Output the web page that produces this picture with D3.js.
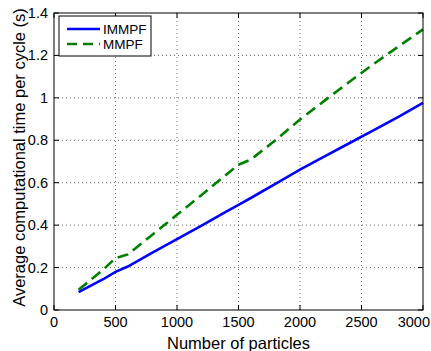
<!DOCTYPE html>
<html>
<head>
<meta charset="utf-8">
<script src="https://cdn.jsdelivr.net/npm/d3@7"></script>
<style>
  body { margin: 0; background: #fff; }
  text { font-family: "Liberation Sans", Arial, sans-serif; fill: #000; }
</style>
</head>
<body>
<div id="chart"></div>
<script>
// computational time vs number of particles
const particles = [200, 400, 500, 600, 800, 1000, 1200, 1400, 1500, 1600, 1800, 2000, 2200, 2400, 2600, 2800, 3000];
const immpf = [0.084, 0.145, 0.18, 0.205, 0.27, 0.334, 0.398, 0.464, 0.496, 0.528, 0.595, 0.662, 0.724, 0.786, 0.848, 0.91, 0.976];
const mmpf  = [0.095, 0.19, 0.245, 0.262, 0.355, 0.449, 0.542, 0.638, 0.685, 0.709, 0.80, 0.898, 0.987, 1.075, 1.16, 1.242, 1.323];
const xTicks = [0, 500, 1000, 1500, 2000, 2500, 3000];
const yTicks = [0, 0.2, 0.4, 0.6, 0.8, 1, 1.2, 1.4];
const seriesNames = ['IMMPF', 'MMPF'];

const W = 431, H = 351;
const m = {left: 54, right: 8, top: 13, bottom: 41};
const iw = W - m.left - m.right, ih = H - m.top - m.bottom;

const svg = d3.select('#chart').append('svg').attr('width', W).attr('height', H);
const g = svg.append('g').attr('transform', `translate(${m.left},${m.top})`);

const x = d3.scaleLinear().domain([0, 3000]).range([0, iw]);
const y = d3.scaleLinear().domain([0, 1.4]).range([ih, 0]);

// grid
g.selectAll('.gx').data(xTicks.slice(1, -1)).enter().append('line')
  .attr('x1', d => x(d)).attr('x2', d => x(d)).attr('y1', 0).attr('y2', ih)
  .attr('stroke', '#444').attr('stroke-width', 0.8).attr('stroke-dasharray', '1,3');
g.selectAll('.gy').data(yTicks.slice(1, -1)).enter().append('line')
  .attr('x1', 0).attr('x2', iw).attr('y1', d => y(d)).attr('y2', d => y(d))
  .attr('stroke', '#444').attr('stroke-width', 0.8).attr('stroke-dasharray', '1,3');

// inward ticks on all four sides
const tl = 5;
xTicks.forEach(t => {
  g.append('line').attr('x1', x(t)).attr('x2', x(t)).attr('y1', ih).attr('y2', ih - tl).attr('stroke', '#000');
  g.append('line').attr('x1', x(t)).attr('x2', x(t)).attr('y1', 0).attr('y2', tl).attr('stroke', '#000');
});
yTicks.forEach(t => {
  g.append('line').attr('x1', 0).attr('x2', tl).attr('y1', y(t)).attr('y2', y(t)).attr('stroke', '#000');
  g.append('line').attr('x1', iw).attr('x2', iw - tl).attr('y1', y(t)).attr('y2', y(t)).attr('stroke', '#000');
});

// tick labels (last one pulled in so it stays on the page)
g.selectAll('.xl').data(xTicks).enter().append('text')
  .attr('x', (d, i) => i === xTicks.length - 1 ? W - m.left - 1 : x(d))
  .attr('y', ih + 17)
  .attr('text-anchor', (d, i) => i === xTicks.length - 1 ? 'end' : 'middle')
  .attr('font-size', '14.5px').text(d => d);
g.selectAll('.yl').data(yTicks).enter().append('text')
  .attr('x', -6).attr('y', d => y(d) + 5).attr('text-anchor', 'end')
  .attr('font-size', '14.5px').text(d => d);

// lines
const line = d3.line().x((d, i) => x(particles[i])).y(d => y(d));
g.append('path').datum(immpf).attr('d', line).attr('fill', 'none')
  .attr('stroke', '#0000ff').attr('stroke-width', 2.6);
g.append('path').datum(mmpf).attr('d', line).attr('fill', 'none')
  .attr('stroke', '#008000').attr('stroke-width', 2.6).attr('stroke-dasharray', '11,6');

// frame
g.append('rect').attr('width', iw).attr('height', ih).attr('fill', 'none')
  .attr('stroke', '#000').attr('stroke-width', 1);

// legend
const lg = g.append('g').attr('transform', 'translate(5,3)');
lg.append('rect').attr('width', 92).attr('height', 40).attr('fill', '#fff')
  .attr('stroke', '#000').attr('stroke-width', 1);
const colors = ['#0000ff', '#008000'];
seriesNames.forEach((n, i) => {
  const yy = 13 + i * 15;
  lg.append('line').attr('x1', 8).attr('x2', 41).attr('y1', yy).attr('y2', yy)
    .attr('stroke', colors[i]).attr('stroke-width', 2.6)
    .attr('stroke-dasharray', i ? '10,6' : null);
  lg.append('text').attr('x', 44).attr('y', yy + 5).attr('font-size', '13.5px').text(n);
});

// axis titles
svg.append('text').attr('x', m.left + iw / 2).attr('y', H - 2).attr('text-anchor', 'middle')
  .attr('font-size', '16.5px').text('Number of particles');
svg.append('text').attr('transform', `translate(25,${m.top + ih / 2 - 4}) rotate(-90)`)
  .attr('text-anchor', 'middle').attr('font-size', '16.5px')
  .text('Average computational time per cycle (s)');
</script>
</body>
</html>
